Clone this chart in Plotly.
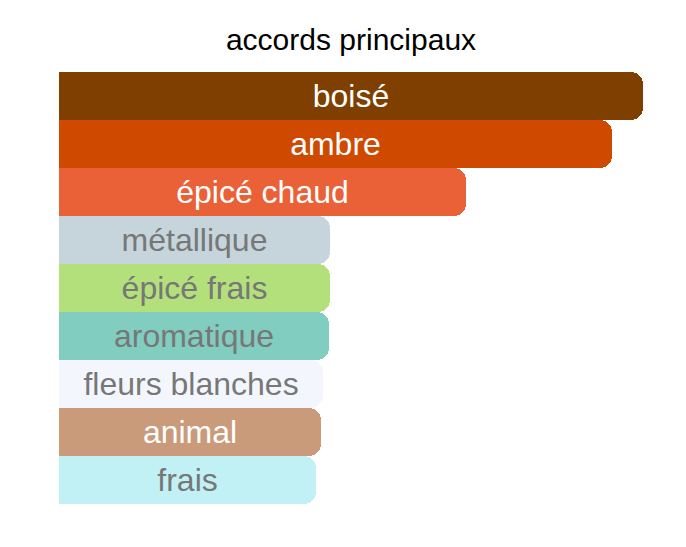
import plotly.graph_objects as go

# accords principaux, top to bottom
accords = ["boisé", "ambre", "épicé chaud", "métallique", "épicé frais",
           "aromatique", "fleurs blanches", "animal", "frais"]
valeurs = [100, 94.7, 69.7, 46.4, 46.4, 46.2, 45.2, 44.9, 44.0]
couleurs = ["#7f3f00", "#cf4a00", "#ea6137", "#c5d5db", "#b3e07b",
            "#81cdc0", "#f3f7fd", "#c99b7b", "#c1f1f4"]
couleurs_texte = ["#ffffff", "#ffffff", "#ffffff", "#777777", "#777777",
                  "#777777", "#777777", "#ffffff", "#777777"]

fig = go.Figure(go.Bar(
    x=valeurs, y=accords, orientation="h",
    marker=dict(color=couleurs, line=dict(width=0), cornerradius=12),
    text=accords, textposition="inside", insidetextanchor="middle",
    textfont=dict(size=32, color=couleurs_texte),
    hoverinfo="skip"))

fig.update_layout(
    width=686, height=547,
    margin=dict(l=51, r=51, t=64, b=51),
    title=dict(text="accords principaux", x=0.5, xref="paper", y=0.9415,
               yanchor="middle", font=dict(size=30, color="#000000")),
    font=dict(family="Liberation Sans, Arial, sans-serif"),
    paper_bgcolor="white", plot_bgcolor="white",
    bargap=0, showlegend=False,
    xaxis=dict(range=[0, 100], visible=False, fixedrange=True),
    yaxis=dict(autorange="reversed", visible=False, fixedrange=True))

fig.write_html("out.html")
